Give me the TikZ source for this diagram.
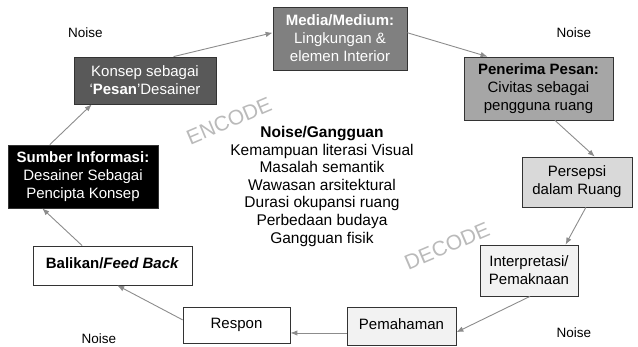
\documentclass[tikz,border=0pt]{standalone}
\usepackage{fontspec}
\setmainfont{Liberation Sans}
\usetikzlibrary{arrows.meta,calc}

\begin{document}
\begin{tikzpicture}[x=1pt,y=-1pt,
  box/.style={draw=black!80, line width=0.8pt, align=center, inner sep=0pt,
    font=\fontsize{15}{18}\selectfont},
  arr/.style={draw=black!45, line width=0.9pt, -{Latex[length=7pt,width=5.5pt]}},
  noise/.style={font=\fontsize{13.5}{16}\selectfont},
  stamp/.style={text=black!27, inner sep=0pt, font=\fontsize{21}{24}\selectfont, rotate=23}]

\useasboundingbox (0,0) rectangle (638,346);

% communication cycle boxes
\node[box, fill=black, text=white, minimum width=150pt, minimum height=63pt]
  (sumber) at (83,176.5) {\textbf{Sumber Informasi:}\\Desainer Sebagai\\Pencipta Konsep};
\node[box, fill=black!65, text=white, minimum width=142pt, minimum height=47pt]
  (konsep) at (145,80.5) {Konsep sebagai\\‘\textbf{Pesan}’Desainer};
\node[box, fill=black!50, text=white, minimum width=134pt, minimum height=63pt]
  (media) at (340,38.5) {\textbf{Media/Medium:}\\Lingkungan \&\\elemen Interior};
\node[box, fill=black!35, minimum width=149pt, minimum height=63pt]
  (penerima) at (538.5,88.5) {\textbf{Penerima Pesan:}\\Civitas sebagai\\pengguna ruang};
\node[box, fill=black!15, minimum width=110pt, minimum height=50pt]
  (persepsi) at (577,182) {Persepsi\\dalam Ruang};
\node[box, fill=black!5, minimum width=98pt, minimum height=51pt]
  (interp) at (529,270.5) {Interpretasi/\\Pemaknaan};
\node[box, fill=black!5, minimum width=109pt, minimum height=38pt]
  (pema) at (401.5,326) {\raisebox{3pt}{Pemahaman}};
\node[box, fill=white, minimum width=107pt, minimum height=36pt]
  (respon) at (236.5,325) {\raisebox{4pt}{Respon}};
\node[box, fill=white, minimum width=159pt, minimum height=39pt]
  (balikan) at (112.5,265.5) {\raisebox{5.5pt}{\textbf{Balikan/\textit{Feed Back}}}};

% noise labels
\node[noise] (n1) at (85.5,33) {Noise};
\node[noise] (n2) at (574,33) {Noise};
\node[noise] (n3) at (99,339) {Noise};
\node[noise] (n4) at (574,333) {Noise};

% phase stamps
\node[stamp] (enc) at (229,121) {ENCODE};
\node[stamp] (dec) at (447,246) {DECODE};

% list of disturbances
\node[align=center, font=\fontsize{15.5}{17.6}\selectfont, anchor=north, inner sep=0pt]
  (gangguan) at (322,126) {\textbf{Noise/Gangguan}\\Kemampuan literasi Visual\\Masalah semantik\\Wawasan arsitektural\\Durasi okupansi ruang\\Perbedaan budaya\\Gangguan fisik};

% connectors around the cycle
\draw[arr] ($(sumber.north west)!0.28!(sumber.north east)$) -- ($(konsep.south west)!0.127!(konsep.south east)$);
\draw[arr] ($(konsep.north west)!0.70!(konsep.north east)$) -- ($(media.north west)!0.41!(media.south west)$);
\draw[arr] ($(media.north east)!0.41!(media.south east)$) -- ($(penerima.north west)!0.16!(penerima.north east)$);
\draw[arr] ($(penerima.south west)!0.61!(penerima.south east)$) -- ($(persepsi.north west)!0.66!(persepsi.north east)$);
\draw[arr] ($(persepsi.south west)!0.58!(persepsi.south east)$) -- ($(interp.north west)!0.87!(interp.north east)$);
\draw[arr] ($(interp.south west)!0.51!(interp.south east)$) -- ($(pema.north east)!0.66!(pema.south east)$);
\draw[arr] ($(pema.north west)!0.68!(pema.south west)$) coordinate (pw) -- (pw -| respon.east);
\draw[arr] ($(respon.north west)!0.36!(respon.south west)$) -- ($(balikan.south west)!0.53!(balikan.south east)$);
\draw[arr] ($(balikan.north west)!0.31!(balikan.north east)$) -- ($(sumber.south west)!0.23!(sumber.south east)$);

\end{tikzpicture}
\end{document}
